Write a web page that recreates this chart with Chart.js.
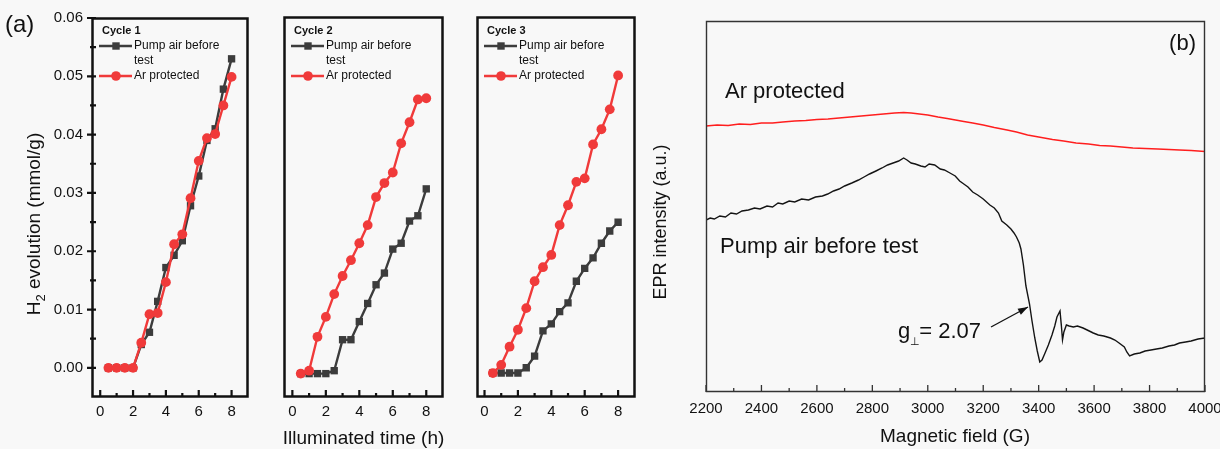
<!DOCTYPE html>
<html><head><meta charset="utf-8">
<script src="https://cdn.jsdelivr.net/npm/chart.js@4.4.0/dist/chart.umd.min.js"></script>
<style>
html,body{margin:0;padding:0;background:#f8f8f8;overflow:hidden;width:1220px;height:449px;position:relative;}
canvas{position:absolute;top:0;}
</style></head><body>
<canvas id="c1" width="255" height="449" style="left:0px"></canvas>
<canvas id="c2" width="195" height="449" style="left:255px"></canvas>
<canvas id="c3" width="190" height="449" style="left:450px"></canvas>
<canvas id="c4" width="600" height="449" style="left:640px"></canvas>
<script>
// ---------- data ----------
const hours = [0.5,1,1.5,2,2.5,3,3.5,4,4.5,5,5.5,6,6.5,7,7.5,8];
const cycle1Pump = [0,0,0,0,0.004,0.0061,0.0114,0.0172,0.0193,0.0218,0.0278,0.0329,0.039,0.041,0.0478,0.053];
const cycle1Ar   = [0,0,0,0,0.0043,0.0092,0.0094,0.0147,0.0212,0.0229,0.0291,0.0355,0.0394,0.0401,0.045,0.0499];
const cycle2Pump = [-0.001,-0.001,-0.001,-0.001,-0.0005,0.0048,0.0048,0.0079,0.011,0.0142,0.0162,0.0203,0.0213,0.0251,0.026,0.0306];
const cycle2Ar   = [-0.001,-0.0005,0.0053,0.0087,0.0126,0.0157,0.0184,0.0213,0.0244,0.0292,0.0316,0.0334,0.0384,0.042,0.0459,0.0461];
const cycle3Pump = [-0.0009,-0.0009,-0.0009,-0.0009,0,0.002,0.0063,0.0075,0.0096,0.0111,0.0148,0.017,0.0188,0.0213,0.0234,0.0249];
const cycle3Ar   = [-0.0009,0.0005,0.0036,0.0065,0.0102,0.0148,0.0172,0.0193,0.0244,0.0278,0.0318,0.0324,0.0382,0.0408,0.0442,0.05];

const timeTicks = [0,2,4,6,8];
const timeMinorTicks = [1,3,5,7];
const h2Ticks = [0,0.01,0.02,0.03,0.04,0.05,0.06];
const h2MinorTicks = [0.005,0.015,0.025,0.035,0.045,0.055];

const eprPumpField = [2200,2215,2230,2250,2270,2290,2310,2330,2353,2375,2395,2420,2440,2460,2477,2500,2520,2545,2570,2595,2620,2639,2660,2680,2700,
  2726,2750,2770,2790,2813,2835,2855,2875,2895,2913,2925,2940,2955,2975,2990,3005,3025,3045,3060,3080,3099,3115,3130,3145,3162,3180,3200,3224,3240,3255,
  3267,3285,3300,3311,3320,3330,3336,3345,3354,3367,3376,3386,3395,3404,3412,3423,3435,3448,3458,3466,3477,3482,3486,3491,3500,3510,3525,3540,3560,3575,
  3597,3615,3635,3659,3675,3690,3709,3718,3728,3745,3765,3784,3805,3825,3846,3870,3890,3908,3930,3950,3975,4000];
const eprPump = [172,174,173,176,175,179,178,181,182,184,183,186,185,189,188,191,190,193,192,195,196,198,201,203,206,
  209,212,215,218,221,224,227,229,231,234,232,229,228,226,225,228,227,223,222,219,216,211,208,205,200,197,193,187,184,179,
  171,167,163,159,155,149,143,127,106,88,71,54,41,30,32,39,47,57,66,75,81,66,52,60,67,66,65,66,64,62,
  59,57,56,54,52,49,45,40,36,38,39,41,42,43,44,46,47,49,50,51,53,54];
const eprArField = [2200,2240,2280,2320,2360,2400,2440,2477,2520,2560,2600,2640,2680,2720,2760,2800,2840,2880,2913,2940,2970,3000,3037,3070,3100,3130,3162,3200,3240,3286,3320,3360,3410,3450,3490,3535,3580,3620,3659,3700,3740,3784,3830,3870,3908,3950,4000];
const eprAr = [266,267,266.5,268,267.5,269,269,270,271,271.5,272.5,273,274,275,276,277,278,279,279.5,279,278,277,275,273.5,272,270.5,269,267,264.5,262,260,257,254.5,252.5,251,249,248,246.5,246,245,244,243.5,243,242.5,242,241.5,240.5];
const fieldTicks = [2200,2400,2600,2800,3000,3200,3400,3600,3800,4000];
const fieldMinorTicks = [2300,2500,2700,2900,3100,3300,3500,3700,3900];

// ---------- styles ----------
const FONT = '"Liberation Sans", Arial, Helvetica, sans-serif';
const RED = '#f03a3a';
const GRAY = '#3c3c3c';
const DECO = {};

function txt(ctx, t, x, y, size, align, weight, color){
  ctx.font = (weight||'normal') + ' ' + size + 'px ' + FONT;
  ctx.textAlign = align || 'left';
  ctx.textBaseline = 'middle';
  ctx.fillStyle = color || '#111';
  ctx.fillText(t, x, y);
}

const decoPlugin = {
  id: 'deco',
  afterDatasetsDraw(chart){
    const cfg = DECO[chart.canvas.id];
    const ctx = chart.ctx, a = chart.chartArea;
    const xs = chart.scales.x, ys = chart.scales.y;
    ctx.save();
    ctx.strokeStyle = cfg.frameColor;
    ctx.lineWidth = cfg.tickWidth;
    ctx.beginPath();
    cfg.xMajor.forEach(v=>{ const p = xs.getPixelForValue(v); ctx.moveTo(p, a.bottom); ctx.lineTo(p, a.bottom - cfg.majLen); });
    cfg.xMinor.forEach(v=>{ const p = xs.getPixelForValue(v); ctx.moveTo(p, a.bottom); ctx.lineTo(p, a.bottom - cfg.minLen); });
    cfg.yMajor.forEach(v=>{ const p = ys.getPixelForValue(v); ctx.moveTo(a.left - 5, p); ctx.lineTo(a.left + 4, p); });
    cfg.yMinor.forEach(v=>{ const p = ys.getPixelForValue(v); ctx.moveTo(a.left - 2, p); ctx.lineTo(a.left + 4, p); });
    ctx.stroke();
    ctx.lineWidth = cfg.frameWidth;
    const L = Math.round(a.left) + 0.5, R = Math.round(a.right) - 0.5, T = Math.round(a.top) + 0.5, B = Math.round(a.bottom) - 0.5;
    ctx.beginPath();
    ctx.moveTo(L, T); ctx.lineTo(R, T); ctx.lineTo(R, B); ctx.lineTo(L, B); ctx.closePath();
    ctx.stroke();

    const ox = cfg.ox;
    if (cfg.cycle){
      const l = a.left;
      txt(ctx, cfg.cycle, l + 10, 31, 11, 'left', 'bold');
      ctx.lineWidth = 2.4;
      ctx.strokeStyle = GRAY; ctx.beginPath(); ctx.moveTo(l+7, 46); ctx.lineTo(l+40, 46); ctx.stroke();
      ctx.fillStyle = GRAY; ctx.fillRect(l+24-3.7, 46-3.7, 7.4, 7.4);
      txt(ctx, 'Pump air before', l + 42, 46, 12);
      txt(ctx, 'test', l + 42, 61, 12);
      ctx.strokeStyle = RED; ctx.beginPath(); ctx.moveTo(l+7, 76); ctx.lineTo(l+40, 76); ctx.stroke();
      ctx.fillStyle = RED; ctx.beginPath(); ctx.arc(l+24, 76, 4.8, 0, Math.PI*2); ctx.fill();
      txt(ctx, 'Ar protected', l + 42, 76, 12);
    }
    (cfg.texts||[]).forEach(o=>{
      if (o.rot){
        ctx.save(); ctx.translate(o.x - ox, o.y); ctx.rotate(-Math.PI/2);
        txt(ctx, o.t, 0, 0, o.size, 'center'); ctx.restore();
      } else txt(ctx, o.t, o.x - ox, o.y, o.size, o.align || 'left', o.weight);
    });
    if (cfg.extra) cfg.extra(ctx, ox);
    ctx.restore();
  }
};

function panel(id, ox, W, area, xMin, xMax, pump, ar, showY, cfg){
  DECO[id] = Object.assign({ox, frameColor:'#111', frameWidth:2.5, tickWidth:2.2, majLen:7, minLen:4,
    xMajor: timeTicks, xMinor: timeMinorTicks,
    yMajor: showY ? h2Ticks : [], yMinor: showY ? h2MinorTicks : []}, cfg);
  return new Chart(document.getElementById(id), {
    type: 'line',
    data: { datasets: [
      { label:'Ar protected', data: hours.map((h,i)=>({x:h, y:ar[i]})), borderColor:RED, backgroundColor:RED,
        pointStyle:'circle', pointRadius:4.9, pointBorderWidth:0, borderWidth:2.4, order:0 },
      { label:'Pump air before test', data: hours.map((h,i)=>({x:h, y:pump[i]})), borderColor:GRAY, backgroundColor:GRAY,
        pointStyle:'rect', pointRadius:5.2, pointBorderWidth:0, borderWidth:2.4, order:1 }
    ]},
    options: {
      responsive:false, animation:false, devicePixelRatio:1,
      layout: { padding: { left:0, top:area.t, right: ox + W - area.r, bottom:0 } },
      plugins: { legend:{display:false}, tooltip:{enabled:false}, title:{display:false} },
      elements: { line:{tension:0} },
      scales: {
        x: { type:'linear', min:xMin, max:xMax,
             afterBuildTicks: s => { s.ticks = timeTicks.map(v=>({value:v})); },
             afterFit: s => { s.height = 449 - area.b; },
             ticks: { padding:6, font:{size:15, family:FONT}, color:'#111', maxRotation:0, autoSkip:false, callback: v => String(v) },
             grid: { display:false, drawTicks:false }, border:{display:false} },
        y: { type:'linear', min:-0.005, max:0.06,
             afterBuildTicks: s => { s.ticks = h2Ticks.map(v=>({value:v})); },
             afterFit: s => { s.width = area.l - ox; },
             ticks: { display:showY, padding:9, font:{size:15, family:FONT}, color:'#111', callback: v => v.toFixed(2) },
             grid: { display:false, drawTicks:false }, border:{display:false} }
      }
    },
    plugins: [decoPlugin]
  });
}

panel('c1', 0, 255, {l:92, r:248, t:16, b:397}, -0.5, 9, cycle1Pump, cycle1Ar, true, {
  cycle:'Cycle 1',
  texts: [ {t:'(a)', x:5, y:25, size:24} ],
  extra: (ctx)=>{
    ctx.save(); ctx.translate(35, 224); ctx.rotate(-Math.PI/2);
    const big = '19px ' + FONT, small = '13px ' + FONT;
    ctx.font = big; const wH = ctx.measureText('H').width; const wR = ctx.measureText(' evolution (mmol/g)').width;
    ctx.font = small; const w2 = ctx.measureText('2').width;
    let x = -(wH + w2 + wR)/2;
    ctx.textBaseline = 'middle'; ctx.textAlign = 'left'; ctx.fillStyle = '#111';
    ctx.font = big; ctx.fillText('H', x, 0); x += wH;
    ctx.font = small; ctx.fillText('2', x, 6); x += w2;
    ctx.font = big; ctx.fillText(' evolution (mmol/g)', x, 0);
    ctx.restore();
  }
});
panel('c2', 255, 195, {l:284, r:443, t:17, b:397}, -0.5, 9, cycle2Pump, cycle2Ar, false, {
  cycle:'Cycle 2',
  texts: [ {t:'Illuminated time (h)', x:363.5, y:439, size:19, align:'center'} ]
});
panel('c3', 450, 190, {l:477, r:635, t:17, b:397}, -0.45, 9, cycle3Pump, cycle3Ar, false, {
  cycle:'Cycle 3'
});

// ---------- EPR panel ----------
(function(){
  const ox = 640, W = 600, area = {l:706, r:1205, t:21, b:392};
  DECO['c4'] = { ox, frameColor:'#333', frameWidth:1.4, tickWidth:1.3, majLen:7, minLen:4,
    xMajor: fieldTicks, xMinor: fieldMinorTicks, yMajor: [], yMinor: [],
    texts: [
      {t:'EPR intensity (a.u.)', x:661, y:222, size:18, rot:true},
      {t:'Magnetic field (G)', x:955, y:437, size:19, align:'center'},
      {t:'(b)', x:1196, y:44, size:22, align:'right'},
      {t:'Ar protected', x:725, y:92, size:22},
      {t:'Pump air before test', x:720, y:247, size:22}
    ],
    extra: (ctx, ox)=>{
      const x0 = 898 - ox;
      ctx.font = '22px ' + FONT; const wg = ctx.measureText('g').width;
      txt(ctx, 'g', x0, 332, 22);
      txt(ctx, '\u22A5', x0 + wg - 0.5, 342, 11);
      ctx.font = '11px ' + FONT; const wp = ctx.measureText('\u22A5').width;
      txt(ctx, '= 2.07', x0 + wg + wp - 1, 332, 22);
      const ax = 991 - ox, ay = 327, bx = 1028 - ox, by = 307;
      ctx.strokeStyle = '#111'; ctx.lineWidth = 1.3;
      ctx.beginPath(); ctx.moveTo(ax, ay); ctx.lineTo(bx, by); ctx.stroke();
      const ang = Math.atan2(by - ay, bx - ax), L = 10, Hh = 3.5;
      ctx.fillStyle = '#111'; ctx.beginPath();
      ctx.moveTo(bx, by);
      ctx.lineTo(bx - L*Math.cos(ang) + Hh*Math.sin(ang), by - L*Math.sin(ang) - Hh*Math.cos(ang));
      ctx.lineTo(bx - L*Math.cos(ang) - Hh*Math.sin(ang), by - L*Math.sin(ang) + Hh*Math.cos(ang));
      ctx.closePath(); ctx.fill();
    }
  };
  new Chart(document.getElementById('c4'), {
    type:'line',
    data: { datasets: [
      { label:'Ar protected', data: eprArField.map((f,i)=>({x:f, y:eprAr[i]})), borderColor:'#ff1e1e', borderWidth:1.4, pointRadius:0 },
      { label:'Pump air before test', data: eprPumpField.map((f,i)=>({x:f, y:eprPump[i]})), borderColor:'#141414', borderWidth:1.4, pointRadius:0 }
    ]},
    options: {
      responsive:false, animation:false, devicePixelRatio:1,
      layout: { padding: { left:0, top:area.t, right: ox + W - area.r, bottom:0 } },
      plugins: { legend:{display:false}, tooltip:{enabled:false} },
      elements: { line:{tension:0} },
      scales: {
        x: { type:'linear', min:2200, max:4000,
             afterBuildTicks: s => { s.ticks = fieldTicks.map(v=>({value:v})); },
             afterFit: s => { s.height = 449 - area.b; },
             ticks: { padding:8, font:{size:15, family:FONT}, color:'#111', maxRotation:0, autoSkip:false, callback: v => String(v) },
             grid: { display:false, drawTicks:false }, border:{display:false} },
        y: { type:'linear', min:0, max:371,
             afterFit: s => { s.width = area.l - ox; },
             ticks: { display:false },
             grid: { display:false, drawTicks:false }, border:{display:false} }
      }
    },
    plugins: [decoPlugin]
  });
})();
</script>
</body></html>
